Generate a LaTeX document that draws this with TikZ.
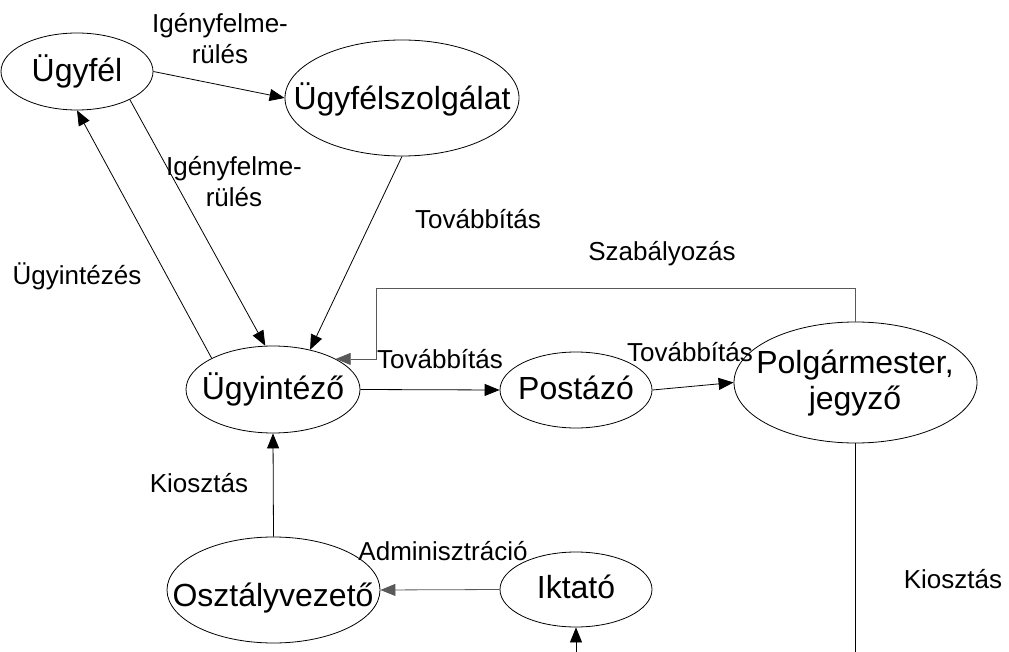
\documentclass[tikz,border=0pt]{standalone}
\usepackage{fontspec}
\setmainfont{Liberation Sans}
\usetikzlibrary{shapes.geometric,arrows.meta}

\tikzset{
  actor/.style={draw=black, line width=0.8pt, ellipse, inner sep=0pt},
  actortext/.style={inner sep=0pt, anchor=base, font=\fontsize{32}{36}\selectfont},
  flowlabel/.style={inner sep=0pt, anchor=base, font=\fontsize{26}{31}\selectfont},
  flow/.style={draw=black, line width=0.8pt, -{Triangle[length=15pt,width=12pt]}},
  greyflow/.style={flow, draw=black!65},
  plainline/.style={draw=black, line width=0.8pt}
}

\begin{document}
\begin{tikzpicture}[x=1pt, y=-1pt]
  \useasboundingbox (0,0) rectangle (1009,652);

  % actors
  \node[actor, minimum width=152pt, minimum height=77pt]  (ugf)  at (77,71.5)   {};
  \node[actor, minimum width=234pt, minimum height=116pt] (usz)  at (402,98)    {};
  \node[actor, minimum width=174pt, minimum height=87pt]  (uint) at (273,389.5) {};
  \node[actor, minimum width=152pt, minimum height=76pt]  (post) at (576,390)   {};
  \node[actor, minimum width=243pt, minimum height=121pt] (pol)  at (855.5,382.5) {};
  \node[actor, minimum width=213pt, minimum height=106pt] (osz)  at (273.5,590) {};
  \node[actor, minimum width=152pt, minimum height=75pt]  (ikt)  at (576,589.5) {};

  \node[actortext] (ugf-t)  at (77,82)   {Ügyfél};
  \node[actortext] (usz-t)  at (402,110) {Ügyfélszolgálat};
  \node[actortext] (uint-t) at (273,399) {Ügyintéző};
  \node[actortext] (post-t) at (576,399) {Postázó};
  \node[actortext, anchor=center, align=center] (pol-t) at (855,383) {Polgármester,\\jegyző};
  \node[actortext] (osz-t)  at (273,606) {Osztályvezető};
  \node[actortext] (ikt-t)  at (576,598) {Iktató};

  % free ends at the lower edge
  \coordinate (iktIn)  at (576,652);
  \coordinate (polOut) at (855.5,652);
  \coordinate (szBend) at (376,288);

  % connectors
  \draw[flow] (ugf.east) -- (usz.west);
  \draw[flow] (uint.153) -- (ugf.south);
  \draw[flow] (ugf.-28) -- (uint.100);
  \draw[flow] (usz.south) -- (uint.47);
  \draw[greyflow] (pol.north) |- (szBend) |- (uint.26);
  \draw[flow] (uint.east) -- (post.west);
  \draw[flow] (post.east) -- (pol.west);
  \draw[flow] (osz.north) -- (uint.south);
  \draw[greyflow] (ikt.west) -- (osz.east);
  \draw[flow] (iktIn) -- (ikt.south);
  \draw[plainline] (pol.south) -- (polOut);

  % connector labels
  \node[flowlabel, anchor=center, align=center] (l-igeny1) at (220,38.5) {Igényfelme-\\rülés};
  \node[flowlabel, anchor=center, align=center] (l-igeny2) at (234,181.3) {Igényfelme-\\rülés};
  \node[flowlabel] (l-tov1)  at (478,229) {Továbbítás};
  \node[flowlabel] (l-szab)  at (662,261) {Szabályozás};
  \node[flowlabel] (l-ugyi)  at (77,285)  {Ügyintézés};
  \node[flowlabel] (l-tov2)  at (440,368) {Továbbítás};
  \node[flowlabel] (l-tov3)  at (690,361) {Továbbítás};
  \node[flowlabel] (l-kio1)  at (199,492) {Kiosztás};
  \node[flowlabel] (l-adm)   at (443,560) {Adminisztráció};
  \node[flowlabel] (l-kio2)  at (953,588) {Kiosztás};
\end{tikzpicture}
\end{document}
